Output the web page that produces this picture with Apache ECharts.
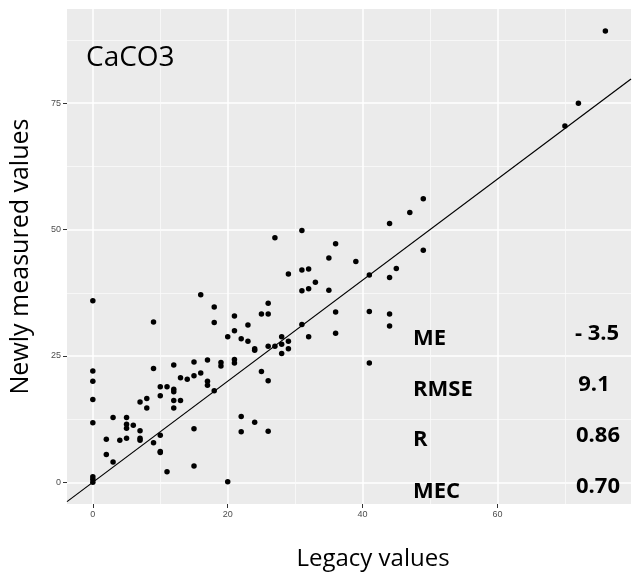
<!DOCTYPE html>
<html>
<head>
<meta charset="utf-8">
<script src="https://cdn.jsdelivr.net/npm/echarts@6/dist/echarts.min.js"></script>
<style>
  html, body { margin: 0; padding: 0; background: #ffffff; }
  #chart { width: 636px; height: 576px; }
</style>
</head>
<body>
<div id="chart"></div>
<script>
// ---- Data ----
const legacy = [0,0,0,0,0,0,0,0, 2,2, 3,3, 4, 5,5,5,5, 6, 7,7,7,7, 8,8, 9,9,9,
  10,10,10,10,10, 11,11, 12,12,12,12,12, 13,13, 14, 15,15,15,15, 16,16, 17,17,17,
  18,18,18, 19,19, 20,20, 21,21,21,21, 22,22,22, 23,23, 24,24,24, 25,25,
  26,26,26,26,26, 27,27, 28,28,28, 29,29,29, 31,31,31,31, 32,32,32, 33, 35,35,
  36,36,36, 39, 41,41,41, 44,44,44,44, 45, 47, 49,49, 70, 72, 76];
const measured = [35.9,22.0,20.0,16.4,11.8,1.1,0.6,0.0, 8.5,5.5, 12.8,4.0, 8.3,
  12.8,11.5,10.7,8.7, 11.3, 15.9,10.2,8.7,8.3, 16.6,14.7, 31.7,22.5,7.8,
  18.9,17.1,9.3,6.1,5.9, 18.9,2.1, 23.2,18.4,17.9,16.2,14.7, 20.7,16.2, 20.4,
  23.8,21.1,10.6,3.2, 37.1,21.6, 24.2,20.0,19.2, 34.7,31.6,18.1, 23.7,23.0,
  28.8,0.1, 32.9,30.0,24.3,23.6, 28.4,13.0,10.0, 31.1,27.9, 26.4,26.1,11.9,
  33.3,21.9, 35.4,33.3,26.9,20.1,10.1, 48.4,26.9, 28.8,27.3,25.5, 41.2,27.9,26.4,
  49.8,42.0,37.9,31.2, 42.2,38.3,28.8, 39.6, 44.4,38.0, 47.2,33.7,29.5, 43.7,
  41.0,33.8,23.6, 51.2,40.5,33.3,30.9, 42.3, 53.4, 56.1,45.9, 70.5, 75.0, 89.3];

const xRange = [-3.83, 79.8];
const yRange = [-4.3, 93.65];
const xMajorTicks = [0, 20, 40, 60];
const xMinorTicks = [10, 30, 50, 70];
const yMajorTicks = [0, 25, 50, 75];
const yMinorTicks = [12.5, 37.5, 62.5, 87.5];

const panelLabel = 'CaCO3';
const statLabels = ['ME', 'RMSE', 'R', 'MEC'];
const statValues = ['- 3.5', '9.1', '0.86', '0.70'];

const xTitle = 'Legacy values';
const yTitle = 'Newly measured values';

// ---- Chart ----
const points = legacy.map((x, i) => [x, measured[i]]);
const oneToOne = [[xRange[0], xRange[0]], [xRange[1], xRange[1]]];

const FONT = '"Open Sans", "Noto Sans", sans-serif';
const TICKFONT = '"Liberation Sans", Arial, sans-serif';

const statLabelY = [339, 390, 440, 492];
const statValueY = [334, 385, 436, 487];
const statValueX = [597, 594, 598, 598];

const graphics = [];
graphics.push({
  type: 'text', left: 86, top: 44, z: 10,
  style: { text: panelLabel, font: '400 28px ' + FONT, fill: '#000' }
});
statLabels.forEach((t, i) => {
  graphics.push({
    type: 'text', x: 413, y: statLabelY[i], z: 10,
    style: { text: t, font: '700 22px ' + FONT, fill: '#000',
             textAlign: 'left', textVerticalAlign: 'middle' }
  });
  graphics.push({
    type: 'text', x: statValueX[i], y: statValueY[i], z: 10,
    style: { text: statValues[i], font: '700 22px ' + FONT, fill: '#000',
             textAlign: 'center', textVerticalAlign: 'middle' }
  });
});

const chart = echarts.init(document.getElementById('chart'), null, { renderer: 'canvas' });
chart.setOption({
  animation: false,
  backgroundColor: '#ffffff',
  grid: {
    left: 63, top: 9, width: 568, height: 500,
    show: true, backgroundColor: '#EBEBEB', borderWidth: 0
  },
  xAxis: [{
    type: 'value', min: xRange[0], max: xRange[1], position: 'bottom',
    name: xTitle, nameLocation: 'middle', nameGap: 43,
    nameTextStyle: { fontFamily: FONT, fontSize: 24, color: '#000', padding: [0, 0, 0, 48] },
    axisLine: { show: false, onZero: false },
    axisTick: { show: true, length: 4, customValues: xMajorTicks, lineStyle: { color: '#333333', width: 1 } },
    axisLabel: { show: true, customValues: xMajorTicks, margin: 6, fontFamily: TICKFONT, fontSize: 9, color: '#4D4D4D' },
    splitLine: { show: true, lineStyle: { color: '#FFFFFF', width: 1.5 } }
  }, {
    type: 'value', min: xRange[0], max: xRange[1], position: 'bottom',
    axisLine: { show: false, onZero: false },
    axisTick: { show: false, customValues: xMinorTicks },
    axisLabel: { show: false, customValues: xMinorTicks },
    splitLine: { show: true, lineStyle: { color: '#FAFAFA', width: 0.8 } }
  }],
  yAxis: [{
    type: 'value', min: yRange[0], max: yRange[1], position: 'left',
    name: yTitle, nameLocation: 'middle', nameGap: 34, nameRotate: 90,
    nameTextStyle: { fontFamily: FONT, fontSize: 25, color: '#000', padding: [0, 0, 0, 0] },
    axisLine: { show: false, onZero: false },
    axisTick: { show: true, length: 4, customValues: yMajorTicks, lineStyle: { color: '#333333', width: 1 } },
    axisLabel: { show: true, customValues: yMajorTicks, margin: 6, fontFamily: TICKFONT, fontSize: 9, color: '#4D4D4D' },
    splitLine: { show: true, lineStyle: { color: '#FFFFFF', width: 1.5 } }
  }, {
    type: 'value', min: yRange[0], max: yRange[1], position: 'left',
    axisLine: { show: false, onZero: false },
    axisTick: { show: false, customValues: yMinorTicks },
    axisLabel: { show: false, customValues: yMinorTicks },
    splitLine: { show: true, lineStyle: { color: '#FAFAFA', width: 0.8 } }
  }],
  series: [{
    type: 'line', xAxisIndex: 0, yAxisIndex: 0,
    data: oneToOne, symbol: 'none', silent: true, clip: true,
    lineStyle: { color: '#000000', width: 1.2 }, z: 3
  }, {
    type: 'scatter', xAxisIndex: 0, yAxisIndex: 0,
    data: points, symbol: 'circle', symbolSize: 5.5,
    itemStyle: { color: '#000000', opacity: 1 }, z: 4
  }],
  graphic: graphics
});
</script>
</body>
</html>
